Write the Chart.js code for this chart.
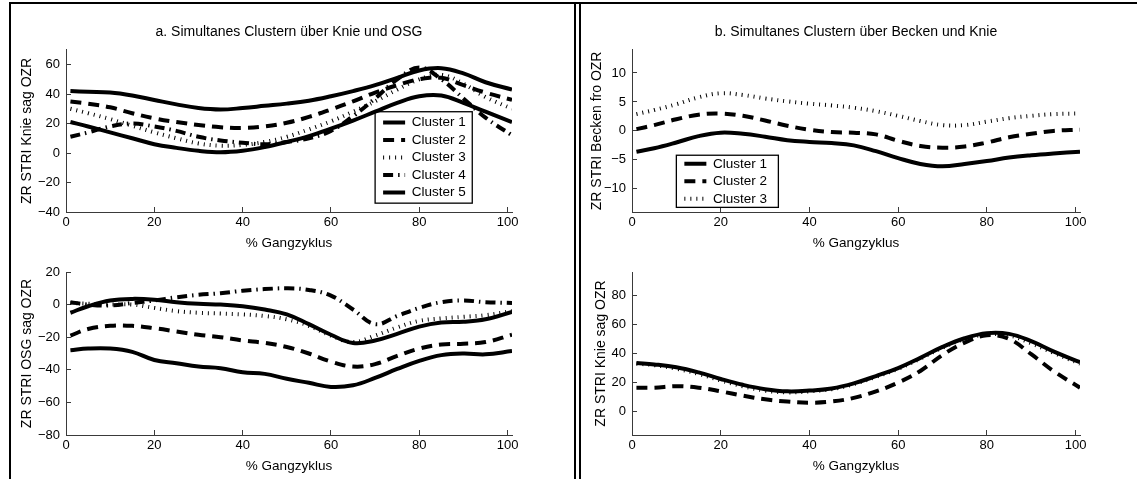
<!DOCTYPE html>
<html>
<head>
<meta charset="utf-8">
<script src="https://cdn.jsdelivr.net/npm/chart.js@4/dist/chart.umd.min.js"></script>
<style>
    body { margin: 0; background: #fff; width: 1137px; height: 479px; overflow: hidden; position: relative; }
    canvas { position: absolute; }
    .rahmen { position: absolute; background: #000; }
</style>
</head>
<body>
<div class="rahmen" style="left:9px;top:2px;width:1128px;height:2px"></div>
<div class="rahmen" style="left:9px;top:2px;width:2px;height:477px"></div>
<div class="rahmen" style="left:574px;top:2px;width:2px;height:477px"></div>
<div class="rahmen" style="left:579px;top:2px;width:2px;height:477px"></div>

<canvas id="knieA" width="555" height="244" style="left:12px;top:12px"></canvas>
<canvas id="beckenB" width="557" height="244" style="left:580px;top:12px"></canvas>
<canvas id="osgA" width="555" height="223" style="left:12px;top:256px"></canvas>
<canvas id="knieB" width="557" height="223" style="left:580px;top:256px"></canvas>

<script>
// % Gangzyklus
const prozent = [1, 5, 10, 15, 20, 25, 30, 35, 40, 45, 50, 55, 60, 65, 70, 75, 80, 85, 90, 95, 101];

// a. Knie sag
const knieA1 = [42, 41.5, 41, 39, 36, 33, 30.5, 29.5, 30.5, 32, 33.5, 35.5, 38.5, 42, 46, 51, 56, 57.5, 54, 48, 43];
const knieA2 = [35, 33.5, 31, 27, 23.5, 21, 19, 17.5, 17, 18, 20.5, 24.5, 29.5, 35, 41, 46, 50, 51, 46, 41, 36];
const knieA3 = [30, 27, 23, 18.5, 14, 10, 6.5, 5, 5.5, 7.5, 11, 16, 21.5, 28, 35, 43, 50, 53, 47, 38, 30];
const knieA4 = [11, 14, 18, 20, 18, 15, 11, 8.5, 7, 6, 7.5, 10, 15, 25, 37, 50, 58, 50, 37, 24, 12];
const knieA5 = [21, 18, 14, 10, 6, 3.5, 1.5, 0.5, 1.5, 4, 7.5, 11.5, 16.5, 22, 28, 34, 38.5, 39, 34, 28, 21];

// a. OSG sag
const osgA1 = [-5, -1, 2.5, 3.5, 3, 1.5, 0.5, 0, -1, -3, -6, -12, -18.5, -23.5, -22, -18, -13.5, -11, -10.5, -9, -4.5];
const osgA2 = [-19, -15, -13, -13, -14.5, -16.5, -18.5, -20, -22, -23.5, -26, -30, -35, -38, -36.5, -31.5, -27, -24.5, -24, -23, -18.5];
const osgA3 = [1, 0.5, 0, 0, -2, -4, -5, -5.5, -6, -7, -9, -13, -19, -23, -19, -14, -10, -8.5, -7.5, -6.5, -4];
const osgA4 = [1.5, 0, -0.5, 1, 2.5, 4.5, 6, 7, 8.5, 9.5, 10, 9, 5.5, -3, -12, -7, -2, 1.5, 2.5, 1.5, 1];
const osgA5 = [-28, -27, -27, -29, -34, -36, -38, -39, -41.5, -42.5, -45.5, -48, -50.5, -49.5, -45, -39.5, -34.5, -31, -30, -30.5, -28.5];

// b. Becken fro
const beckenB1 = [-3.6, -3, -2, -0.9, -0.3, -0.5, -1, -1.6, -1.9, -2.1, -2.5, -3.5, -4.7, -5.7, -6.1, -5.7, -5.2, -4.6, -4.2, -3.9, -3.6];
const beckenB2 = [0.3, 1, 2, 2.8, 3, 2.6, 1.8, 0.9, 0.2, -0.2, -0.3, -0.6, -1.7, -2.6, -2.9, -2.7, -2, -1.1, -0.5, 0, 0.2];
const beckenB3 = [2.9, 3.6, 4.6, 5.8, 6.5, 6.2, 5.6, 5.1, 4.7, 4.4, 4, 3.4, 2.6, 1.7, 1, 1, 1.6, 2.2, 2.6, 2.9, 3];

// b. Knie sag
const knieB1 = [33.5, 32.5, 30.5, 27, 22.5, 18.5, 15.5, 14, 14.5, 16, 19.5, 24.5, 30, 37, 44.5, 50.5, 54, 53.5, 48.5, 41.5, 34];
const knieB2 = [16.5, 16.5, 17.5, 16.5, 14, 11, 8.5, 7, 6.2, 7, 9.5, 14, 20, 28, 39, 47.5, 52.5, 50, 39.5, 28, 16.5];
const knieB3 = [33, 32, 29.5, 26, 21.5, 17.5, 14.5, 13.3, 14, 15.5, 19, 24, 29.5, 36.5, 44, 50, 53, 52.5, 47, 40.5, 33];

const clusterNamen = ["Cluster 1", "Cluster 2", "Cluster 3", "Cluster 4", "Cluster 5"];
const ticksX = [0, 20, 40, 60, 80, 100];
const ticksKnieA = [-40, -20, 0, 20, 40, 60];
const ticksOsgA = [-80, -60, -40, -20, 0, 20];
const ticksBeckenB = [-10, -5, 0, 5, 10];
const ticksKnieB = [0, 20, 40, 60, 80];

Chart.defaults.font.family = '"Liberation Sans", Arial, sans-serif';
Chart.defaults.color = '#000';

// Linienstile wie in MATLAB: durchgezogen, gestrichelt, gepunktet, Strich-Punkt
const stile = [
    { borderDash: [] },
    { borderDash: [11, 7] },
    { borderDash: [1, 5] },
    { borderDash: [10, 5, 1.5, 5] },
    { borderDash: [] }
];

const achsenFarbe = '#3a3a3a';

function minus(v) {
    return v < 0 ? '\u2212' + Math.abs(v) : String(v);
}

// Legende innerhalb des Diagramms mit Rahmen
function legendeImPlot(rahmen) {
    return {
        id: 'legendeImPlot',
        afterLayout(chart) {
            const lg = chart.legend;
            const xs = chart.scales.x, ys = chart.scales.y;
            const l = xs.getPixelForValue(rahmen[0]), t = ys.getPixelForValue(rahmen[1]);
            const r = xs.getPixelForValue(rahmen[2]), b = ys.getPixelForValue(rahmen[3]);
            const n = chart.data.datasets.length;
            const ersteMitte = (t + b) / 2 - (n - 1) * 17.5 / 2;
            lg.left = l + 4;
            lg.right = r;
            lg.top = ersteMitte - 10.75;
            lg.bottom = b + 20;
            chart.$rahmen = { l, t, r, b };
        },
        afterDraw(chart) {
            const { l, t, r, b } = chart.$rahmen;
            const ctx = chart.ctx;
            ctx.save();
            ctx.strokeStyle = '#000';
            ctx.lineWidth = 1.3;
            ctx.setLineDash([]);
            ctx.strokeRect(l, t, r - l, b - t);
            ctx.restore();
        }
    };
}

function zeichne(id, cfg) {
    const datasets = cfg.reihen.map((werte, i) => ({
        label: clusterNamen[i],
        data: prozent.map((x, j) => ({ x: x, y: werte[j] })),
        borderColor: '#000',
        borderWidth: 4,
        borderDash: stile[i].borderDash,
        borderCapStyle: 'butt',
        pointRadius: 0,
        tension: 0.4,
        fill: false
    }));

    new Chart(document.getElementById(id), {
        type: 'line',
        data: { datasets: datasets },
        plugins: cfg.legende ? [legendeImPlot(cfg.legende)] : [],
        options: {
            responsive: false,
            animation: false,
            layout: { padding: { left: 0, right: cfg.rechts, top: cfg.oben, bottom: 0 } },
            plugins: {
                title: {
                    display: !!cfg.titel,
                    text: cfg.titel,
                    fullSize: false,
                    font: { size: 14, weight: 'normal' },
                    padding: { top: 12, bottom: 9 }
                },
                legend: {
                    display: !!cfg.legende,
                    position: 'chartArea',
                    align: 'start',
                    labels: {
                        usePointStyle: true,
                        pointStyleWidth: 22,
                        padding: 4,
                        font: { size: 13.5 },
                        generateLabels: chart => chart.data.datasets.map((d, i) => ({
                            text: d.label,
                            fillStyle: d.borderColor,
                            strokeStyle: d.borderColor,
                            lineWidth: d.borderWidth,
                            lineDash: d.borderDash,
                            lineCap: 'butt',
                            pointStyle: 'line',
                            datasetIndex: i,
                            hidden: false
                        }))
                    }
                },
                tooltip: { enabled: false }
            },
            scales: {
                x: {
                    type: 'linear',
                    min: 0,
                    max: 101,
                    afterBuildTicks: s => { s.ticks = ticksX.map(v => ({ value: v })); },
                    afterFit: s => { s.height = 44; s.paddingLeft = 0; s.paddingRight = 0; },
                    border: { color: achsenFarbe, width: 1 },
                    grid: { drawOnChartArea: false, tickLength: -5, color: achsenFarbe },
                    ticks: { font: { size: 13 }, padding: 8, maxRotation: 0, autoSkip: false },
                    title: {
                        display: true,
                        text: '% Gangzyklus',
                        font: { size: 13.5 },
                        padding: { top: 0, bottom: 5 }
                    }
                },
                y: {
                    type: 'linear',
                    min: cfg.yMin,
                    max: cfg.yMax,
                    afterBuildTicks: s => { s.ticks = cfg.yTicks.map(v => ({ value: v })); },
                    afterFit: s => { s.width = cfg.yBreite; s.paddingTop = 0; s.paddingBottom = 0; },
                    border: { color: achsenFarbe, width: 1 },
                    grid: { drawOnChartArea: false, tickLength: -5, color: achsenFarbe },
                    ticks: { font: { size: 13 }, padding: 11, callback: v => minus(v) },
                    title: {
                        display: true,
                        text: cfg.yTitel,
                        font: { size: 14 },
                        padding: { top: cfg.yTitelAbstand, bottom: 0 }
                    }
                }
            }
        }
    });
}

zeichne('knieA', {
    titel: 'a. Simultanes Clustern über Knie und OSG',
    reihen: [knieA1, knieA2, knieA3, knieA4, knieA5],
    yMin: -40, yMax: 70, yTicks: ticksKnieA,
    yTitel: 'ZR STRI Knie sag OZR', yTitelAbstand: 7, yBreite: 54,
    rechts: 55, oben: 0,
    legende: [70, 28, 92, -34]
});

zeichne('beckenB', {
    titel: 'b. Simultanes Clustern über Becken und Knie',
    reihen: [beckenB1, beckenB2, beckenB3],
    yMin: -14, yMax: 14, yTicks: ticksBeckenB,
    yTitel: 'ZR STRI Becken fro OZR', yTitelAbstand: 9, yBreite: 52,
    rechts: 57, oben: 0,
    legende: [10, -4.2, 33, -13.2]
});

zeichne('osgA', {
    reihen: [osgA1, osgA2, osgA3, osgA4, osgA5],
    yMin: -80, yMax: 20, yTicks: ticksOsgA,
    yTitel: 'ZR STRI OSG sag OZR', yTitelAbstand: 7, yBreite: 54,
    rechts: 55, oben: 16
});

zeichne('knieB', {
    reihen: [knieB1, knieB2, knieB3],
    yMin: -16, yMax: 96, yTicks: ticksKnieB,
    yTitel: 'ZR STRI Knie sag OZR', yTitelAbstand: 13, yBreite: 52,
    rechts: 57, oben: 16
});
</script>
</body>
</html>
